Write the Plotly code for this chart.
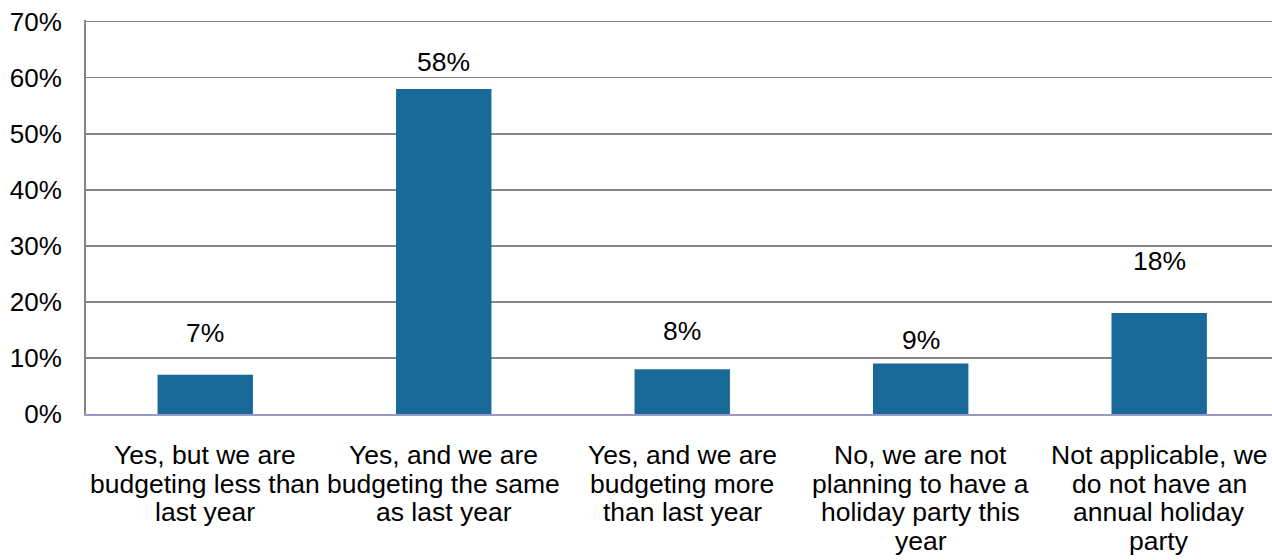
import plotly.graph_objects as go

categories = [
    "Yes, but we are<br>budgeting less than<br>last year",
    "Yes, and we are<br>budgeting the same<br>as last year",
    "Yes, and we are<br>budgeting more<br>than last year",
    "No, we are not<br>planning to have a<br>holiday party this<br>year",
    "Not applicable, we<br>do not have an<br>annual holiday<br>party",
]
values = [7, 58, 8, 9, 18]
tick_vals = [0, 10, 20, 30, 40, 50, 60, 70]
tick_text = ["0%", "10%", "20%", "30%", "40%", "50%", "60%", "70%"]

# label offsets (pixels above bar top) as placed in the original
label_shift = [42, 27, 38, 24, 52]

FONT = "Liberation Sans, Arial, sans-serif"
x_idx = list(range(len(categories)))

fig = go.Figure()
fig.add_trace(go.Bar(
    x=x_idx, y=values, width=0.4,
    marker=dict(color="#186898", line=dict(width=0)),
    hoverinfo="skip",
))

annotations = []
for i, (v, s) in enumerate(zip(values, label_shift)):
    annotations.append(dict(
        x=i, y=v, xref="x", yref="y", text=f"{v}%", showarrow=False,
        yanchor="middle", yshift=s, font=dict(family=FONT, size=26.5, color="#000000"),
    ))
    lines = categories[i].split("<br>")
    for j, ln in enumerate(lines):
        annotations.append(dict(
            x=i, y=0, xref="x", yref="paper", text=ln, showarrow=False,
            yanchor="top", yshift=-24 - j * 28.5,
            font=dict(family=FONT, size=26.5, color="#000000"),
        ))

fig.update_layout(
    width=1272, height=560,
    margin=dict(l=86, r=0, t=20, b=146),
    paper_bgcolor="white", plot_bgcolor="white",
    showlegend=False,
    annotations=annotations,
    font=dict(family=FONT, size=26, color="#000000"),
)
fig.update_xaxes(
    range=[-0.5, 4.473], showticklabels=False, showgrid=False, ticks="",
    showline=True, linecolor="#9a98c6", linewidth=2, zeroline=False,
    fixedrange=True, automargin=False,
)
fig.update_yaxes(
    range=[0, 70.3], tickvals=tick_vals, ticktext=tick_text,
    showgrid=True, gridcolor="#858585", gridwidth=1.5,
    showline=True, linecolor="#858585", linewidth=2, zeroline=False,
    ticks="", ticklabelstandoff=17, automargin=False, ticklabeloverflow="allow",
    tickfont=dict(family=FONT, size=26, color="#000000"), fixedrange=True,
)
fig.write_html(
    "out.html",
    config={"displayModeBar": False, "staticPlot": True},
    post_script="document.body.style.margin='0';document.body.style.overflow='hidden';",
)
